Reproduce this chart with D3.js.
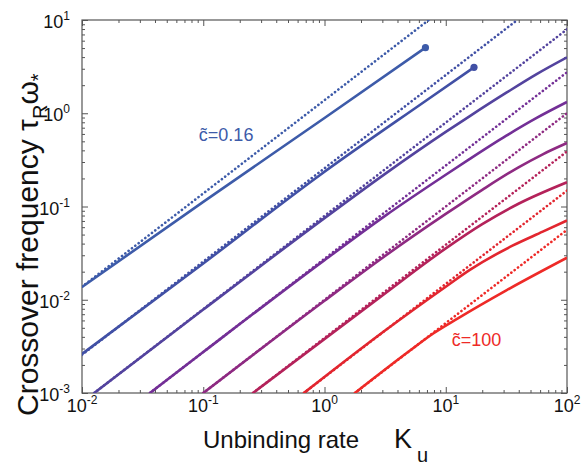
<!DOCTYPE html>
<html><head><meta charset="utf-8">
<script src="https://cdn.jsdelivr.net/npm/d3@7/dist/d3.min.js"></script>
<style>body{margin:0;background:#fff} svg{display:block}</style>
</head><body>
<script>
// ---- data ----
const seriesColors = ["#3d5ba9","#4150a5","#53439e","#732f96","#8e2a82","#b4225a","#e2262f","#ee2a27"];
// dotted asymptotes: [K, omega] end points
const dotted1 = [[0.01,0.0138],[7.24,10]];
const dotted2 = [[0.01,0.00257],[38.9,10]];
const dotted3 = [[0.0126,0.001],[100,7.94]];
const dotted4 = [[0.0363,0.001],[100,2.75]];
const dotted5 = [[0.1,0.001],[100,1.0]];
const dotted6 = [[0.257,0.001],[100,0.389]];
const dotted7 = [[0.676,0.001],[100,0.148]];
const dotted8 = [[1.78,0.001],[100,0.0562]];
// solid curves: [K, omega]
const solid1 = [[0.01,0.0137],[0.1,0.112],[1,0.89],[6.8,5.05]];
const solid2 = [[0.01,0.00262],[0.1,0.0245],[0.92,0.218],[7,1.387],[17.1,3.11]];
const solid3 = [[0.0126,0.001],[0.1,0.00785],[1,0.075],[3.16,0.224],[10,0.631],[15.8,0.933],[31.6,1.66],[56.2,2.63],[100,3.98]];
const solid4 = [[0.0363,0.001],[0.1,0.00275],[1,0.0266],[3.16,0.0794],[10,0.219],[15.8,0.324],[31.6,0.575],[56.2,0.891],[100,1.32]];
const solid5 = [[0.1,0.001],[1,0.00977],[3.16,0.0295],[10,0.0832],[20,0.151],[39.8,0.263],[63.1,0.363],[100,0.479]];
const solid6 = [[0.257,0.001],[2.82,0.01047],[10,0.0355],[20,0.0646],[39.8,0.107],[100,0.182]];
const solid7 = [[0.676,0.001],[3.16,0.00468],[10,0.0138],[15.8,0.0209],[35.5,0.038],[63.1,0.0537],[100,0.0708]];
const solid8 = [[1.78,0.001],[5.01,0.00282],[7.94,0.00437],[12.6,0.00631],[31.6,0.0126],[100,0.0282]];
const endDots = [[6.8,5.05],[17.1,3.11]];
const xTickValues = [1e-2,1e-1,1,10,100];
const xTickExponents = ["-2","-1","0","1","2"];
const yTickValues = [1e-3,1e-2,1e-1,1,10];
const yTickExponents = ["-3","-2","-1","0","1"];
const annotations = [{text:"c\u0303=0.16", K:0.092, w:0.5, color:0}, {text:"c\u0303=100", K:11.2, w:0.00321, color:7}];

const dottedLines = [dotted1,dotted2,dotted3,dotted4,dotted5,dotted6,dotted7,dotted8];
const solidCurves = [solid1,solid2,solid3,solid4,solid5,solid6,solid7,solid8];

// ---- layout ----
const W = 588, H = 466;
const L = 82, R = 567, T = 20, B = 393;
const font = "'Liberation Sans', Arial, sans-serif";

const svg = d3.select("body").append("svg").attr("width", W).attr("height", H)
  .style("font-family", font);

const x = d3.scaleLog().domain([1e-2, 1e2]).range([L, R]);
const y = d3.scaleLog().domain([1e-3, 1e1]).range([B, T]);

svg.append("defs").append("clipPath").attr("id","clip")
  .append("rect").attr("x", L).attr("y", T).attr("width", R-L).attr("height", B-T);

// axes ticks
const axisColor = "#555";
const xMinor = x.ticks().filter(v => !xTickValues.some(t => Math.abs(t-v)/t < 1e-6));
const yMinor = y.ticks().filter(v => !yTickValues.some(t => Math.abs(t-v)/t < 1e-6));

function styleAxis(g){
  g.select(".domain").remove();
  g.selectAll("line").attr("stroke", axisColor);
  g.selectAll("text").remove();
}
svg.append("g").attr("transform",`translate(0,${B})`).call(d3.axisBottom(x).tickValues(xTickValues).tickSize(-6).tickFormat("")).call(styleAxis);
svg.append("g").attr("transform",`translate(0,${B})`).call(d3.axisBottom(x).tickValues(xMinor).tickSize(-3).tickFormat("")).call(styleAxis);
svg.append("g").attr("transform",`translate(0,${T})`).call(d3.axisTop(x).tickValues(xTickValues).tickSize(-6).tickFormat("")).call(styleAxis);
svg.append("g").attr("transform",`translate(0,${T})`).call(d3.axisTop(x).tickValues(xMinor).tickSize(-3).tickFormat("")).call(styleAxis);
svg.append("g").attr("transform",`translate(${L},0)`).call(d3.axisLeft(y).tickValues(yTickValues).tickSize(-6).tickFormat("")).call(styleAxis);
svg.append("g").attr("transform",`translate(${L},0)`).call(d3.axisLeft(y).tickValues(yMinor).tickSize(-3).tickFormat("")).call(styleAxis);
svg.append("g").attr("transform",`translate(${R},0)`).call(d3.axisRight(y).tickValues(yTickValues).tickSize(-6).tickFormat("")).call(styleAxis);
svg.append("g").attr("transform",`translate(${R},0)`).call(d3.axisRight(y).tickValues(yMinor).tickSize(-3).tickFormat("")).call(styleAxis);

svg.append("rect").attr("x", L).attr("y", T).attr("width", R-L).attr("height", B-T)
  .attr("fill","none").attr("stroke", axisColor).attr("stroke-width",1.2);

// tick labels
xTickValues.forEach((v,i) => {
  const t = svg.append("text").attr("x", x(v)).attr("y", B+19).attr("text-anchor","middle")
    .attr("font-size", 18).attr("fill","#111");
  t.append("tspan").text("10");
  t.append("tspan").attr("dy", -8).attr("font-size", 12).text(xTickExponents[i].replace("-","\u2011"));
});
yTickValues.forEach((v,i) => {
  const t = svg.append("text").attr("x", L-12).attr("y", y(v)+8).attr("text-anchor","end")
    .attr("font-size", 18).attr("fill","#111");
  t.append("tspan").text("10");
  t.append("tspan").attr("dy", -8).attr("font-size", 12).text(yTickExponents[i].replace("-","\u2011"));
});

// data lines
const line = d3.line().x(d => x(d[0])).y(d => y(d[1])).curve(d3.curveMonotoneX);
const plot = svg.append("g").attr("clip-path","url(#clip)");

plot.selectAll("path.dotted").data(dottedLines).join("path").attr("class","dotted")
  .attr("d", d3.line().x(d => x(d[0])).y(d => y(d[1])))
  .attr("fill","none").attr("stroke",(d,i)=>seriesColors[i])
  .attr("stroke-width",2.6).attr("stroke-linecap","round").attr("stroke-dasharray","0.1 4.1");

plot.selectAll("path.solid").data(solidCurves).join("path").attr("class","solid")
  .attr("d", line)
  .attr("fill","none").attr("stroke",(d,i)=>seriesColors[i]).attr("stroke-width",2.6);

svg.selectAll("circle.end").data(endDots).join("circle").attr("class","end")
  .attr("cx", d => x(d[0])).attr("cy", d => y(d[1])).attr("r", 3.6)
  .attr("fill",(d,i)=>seriesColors[i]);

// annotations
annotations.forEach(a => {
  svg.append("text").attr("x", x(a.K)).attr("y", y(a.w)).attr("font-size", 18)
    .attr("fill", seriesColors[a.color]).text(a.text);
});

// axis titles
const xt = svg.append("text").attr("x", 203).attr("y", 448).attr("font-size", 24).attr("fill","#111");
xt.append("tspan").text("Unbinding rate ");
xt.append("tspan").attr("x", 394).attr("font-size", 27).text("K");
xt.append("tspan").attr("x", 417).attr("dy", 14).attr("font-size", 20).text("u");

const yt = svg.append("text").attr("transform", "translate(38,416) rotate(-90)")
  .attr("font-size", 30).attr("fill","#111");
yt.append("tspan").text("Crossover frequency \u03c4");
yt.append("tspan").attr("dy", 9).attr("font-size", 20).text("R");
yt.append("tspan").attr("dy", -9).text("\u03c9");
yt.append("tspan").attr("dy", 7).attr("font-size", 20).text("*");
</script>
</body></html>
